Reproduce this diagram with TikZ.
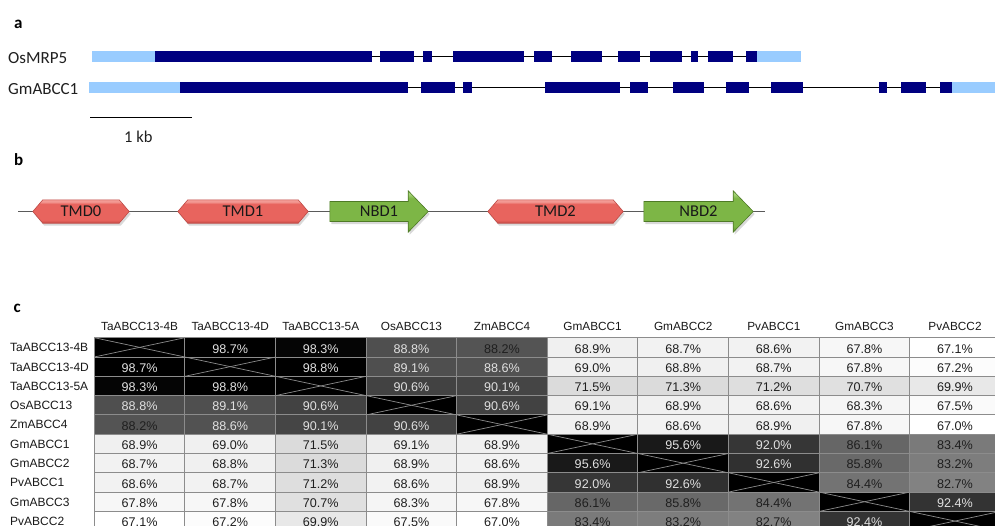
\documentclass[tikz,border=0pt]{standalone}
\usepackage{fontspec}
\setmainfont{Carlito}
\newfontfamily\tabfont{Liberation Sans}
\usetikzlibrary{calc}
\pgfdeclarelayer{bg}
\pgfsetlayers{bg,main}
\definecolor{exonblue}{HTML}{000080}
\definecolor{utrblue}{HTML}{99CCFF}
\definecolor{tmdlight}{HTML}{F39A94}
\definecolor{tmdmain}{HTML}{E8645E}
\definecolor{tmddark}{HTML}{C54A44}
\definecolor{tmdedge}{HTML}{BE4B47}
\definecolor{nbdlight}{HTML}{A6D477}
\definecolor{nbdmain}{HTML}{7DB646}
\definecolor{nbddark}{HTML}{5C8F2C}
\definecolor{nbdedge}{HTML}{4E7A26}
\definecolor{backbone}{HTML}{5A5A5A}
\pgfdeclareverticalshading{redbev}{100bp}{color(0bp)=(tmddark); color(25bp)=(tmddark); color(32bp)=(tmdmain); color(66bp)=(tmdmain); color(71bp)=(tmdlight); color(100bp)=(tmdlight)}
\pgfdeclareverticalshading{greenbev}{100bp}{color(0bp)=(nbddark); color(25bp)=(nbddark); color(32bp)=(nbdmain); color(66bp)=(nbdmain); color(71bp)=(nbdlight); color(100bp)=(nbdlight)}
\begin{document}
\begin{tikzpicture}[x=1pt,y=-1pt,
  exon/.style={fill=exonblue},
  utrbox/.style={fill=utrblue},
  intron/.style={line width=1.3pt,black},
  genelbl/.style={font=\fontsize{17}{19}\selectfont, anchor=base west, inner sep=0pt, text=black!88},
  panel/.style={font=\bfseries\fontsize{17}{19}\selectfont, anchor=base west, inner sep=0pt},
  dom/.style={minimum height=23pt, inner sep=0pt, font=\fontsize{16.5}{18}\selectfont, text=black!90},
  nbd/.style={minimum height=41pt, inner sep=0pt, font=\fontsize{16.5}{18}\selectfont, text=black!90},
  colhead/.style={font=\tabfont\fontsize{11.8}{13}\selectfont, anchor=base, inner sep=0pt, text=black!90},
  rowhead/.style={font=\tabfont\fontsize{12}{13}\selectfont, anchor=base west, inner sep=0pt, text=black!90},
  cellbox/.style={draw=black!45, line width=1pt},
  valtxt/.style={font=\tabfont\fontsize{12.6}{14}\selectfont, anchor=base, inner sep=0pt},
  xline/.style={draw=black!45, line width=0.7pt}
]
\useasboundingbox (0,0) rectangle (995,525);
\clip (0,0) rectangle (995,525);

% ---------- panel a ----------
\node[panel] (pa) at (14,28.3) {a};
\node[genelbl] (os) at (8,63.3) {OsMRP5};
\node[genelbl] (gm) at (8,94) {GmABCC1};
\draw[intron] (372,56.2) -- (746,56.2);
\fill[utrbox] (92,50.7) rectangle (155,61.7);
\foreach \a/\b in {155/372,380/414,423/432,453/524,534/552,571/602,618/640,650/682,691/698,708/733,746/757}
  \fill[exon] (\a,50.7) rectangle (\b,61.7);
\fill[utrbox] (757,50.7) rectangle (801,61.7);

\draw[intron] (408,87.5) -- (952,87.5);
\fill[utrbox] (89,82) rectangle (180,93);
\foreach \a/\b in {180/408,421/455,463/472,545/620,630/648,673/704,726/749,771/803,879/887,901/926,940/952}
  \fill[exon] (\a,82) rectangle (\b,93);
\fill[utrbox] (952,82) rectangle (1000,93);

\coordinate (sb1) at (90,117.7);
\coordinate (sb2) at (192,117.7);
\draw[line width=1.5pt] (sb1) -- (sb2);
\node[genelbl, font=\fontsize{16.5}{18}\selectfont] (kb) at (124,142.7) {1 kb};

% ---------- panel b ----------
\node[panel] (pb) at (14,165) {b};
\node[dom, minimum width=96pt] (tmd0) at (81,211.5) {TMD0};
\node[dom, minimum width=130pt] (tmd1) at (243,211.5) {TMD1};
\node[dom, minimum width=135pt] (tmd2) at (555.5,211.5) {TMD2};
\node[nbd, minimum width=98pt] (nbd1) at (379,211.5) {NBD1};
\node[nbd, minimum width=109pt] (nbd2) at (698.5,211.5) {NBD2};
\coordinate (bs) at (18,211.5);
\coordinate (be) at (765,211.5);
\begin{pgfonlayer}{bg}
  \draw[backbone, line width=1.5pt] (bs) -- (tmd0.west);
  \draw[backbone, line width=1.5pt] (tmd0.east) -- (tmd1.west);
  \draw[backbone, line width=1.5pt] (tmd1.east) -- (nbd1.west);
  \draw[backbone, line width=1.5pt] (nbd1.east) -- (tmd2.west);
  \draw[backbone, line width=1.5pt] (tmd2.east) -- (nbd2.west);
  \draw[backbone, line width=1.5pt] (nbd2.east) -- (be);
  \foreach \n in {tmd0,tmd1,tmd2} {
    \fill[black, opacity=0.15] ($(\n.west)+(1.5,2.5)$) -- ($(\n.north west)+(11.5,2.5)$) -- ($(\n.north east)+(-8.5,2.5)$) -- ($(\n.east)+(1.5,2.5)$) -- ($(\n.south east)+(-8.5,2.5)$) -- ($(\n.south west)+(11.5,2.5)$) -- cycle;
    \shadedraw[shading=redbev, draw=tmdedge, line width=0.6pt] (\n.west) -- ($(\n.north west)+(10,0)$) -- ($(\n.north east)+(-10,0)$) -- (\n.east) -- ($(\n.south east)+(-10,0)$) -- ($(\n.south west)+(10,0)$) -- cycle;
  }
  \foreach \n in {nbd1,nbd2} {
    \fill[black, opacity=0.15] ($(\n.west)+(1.5,-7.5)$) -- ($(\n.east)+(-18.5,-7.5)$) -- ($(\n.north east)+(-18.5,2.5)$) -- ($(\n.east)+(1.5,2.5)$) -- ($(\n.south east)+(-18.5,2.5)$) -- ($(\n.east)+(-18.5,12.5)$) -- ($(\n.west)+(1.5,12.5)$) -- cycle;
    \shadedraw[shading=greenbev, draw=nbdedge, line width=0.6pt] ($(\n.west)+(0,-10)$) -- ($(\n.east)+(-20,-10)$) -- ($(\n.north east)+(-20,0)$) -- (\n.east) -- ($(\n.south east)+(-20,0)$) -- ($(\n.east)+(-20,10)$) -- ($(\n.west)+(0,10)$) -- cycle;
  }
\end{pgfonlayer}

% ---------- panel c ----------
\node[panel] (pc) at (13.3,312.7) {c};
\foreach \nm [count=\i] in {TaABCC13-4B,TaABCC13-4D,TaABCC13-5A,OsABCC13,ZmABCC4,GmABCC1,GmABCC2,PvABCC1,GmABCC3,PvABCC2} {
  \node[colhead] (h\i) at ({94.3+90.6*(\i-0.5)},330.7) {\nm};
  \node[rowhead] (r\i) at (10,{337.7+19.3*(\i-1)+14}) {\nm};
}
\foreach \rowdata [count=\r] in {
  {0,98.7,98.3,88.8,88.2,68.9,68.7,68.6,67.8,67.1},
  {98.7,0,98.8,89.1,88.6,69.0,68.8,68.7,67.8,67.2},
  {98.3,98.8,0,90.6,90.1,71.5,71.3,71.2,70.7,69.9},
  {88.8,89.1,90.6,0,90.6,69.1,68.9,68.6,68.3,67.5},
  {88.2,88.6,90.1,90.6,0,68.9,68.6,68.9,67.8,67.0},
  {68.9,69.0,71.5,69.1,68.9,0,95.6,92.0,86.1,83.4},
  {68.7,68.8,71.3,68.9,68.6,95.6,0,92.6,85.8,83.2},
  {68.6,68.7,71.2,68.6,68.9,92.0,92.6,0,84.4,82.7},
  {67.8,67.8,70.7,68.3,67.8,86.1,85.8,84.4,0,92.4},
  {67.1,67.2,69.9,67.5,67.0,83.4,83.2,82.7,92.4,0}} {
  \foreach \v [count=\c] in \rowdata {
    \pgfmathsetmacro\cx{94.3+90.6*(\c-1)}
    \pgfmathsetmacro\cy{337.7+19.3*(\r-1)}
    \ifnum\c=\r
      \fill[black] (\cx,\cy) rectangle ++(90.6,19.3);
      \draw[xline] (\cx,\cy) -- ++(90.6,19.3);
      \draw[xline] (\cx,\cy+19.3) -- ++(90.6,-19.3);
      \draw[cellbox] (\cx,\cy) rectangle ++(90.6,19.3);
    \else
      \pgfmathtruncatemacro\p{round((\v-67)/(98.8-67)*100)}
      \pgfmathtruncatemacro\lt{\v>88.4 ? 1 : 0}
      \ifnum\lt=1 \def\tc{black!12}\else\def\tc{black!88}\fi
      \draw[cellbox, fill=black!\p] (\cx,\cy) rectangle ++(90.6,19.3);
      \node[valtxt, text=\tc] (c-\r-\c) at (\cx+45.3,\cy+15.3) {\v\%};
    \fi
  }
}
\end{tikzpicture}
\end{document}
